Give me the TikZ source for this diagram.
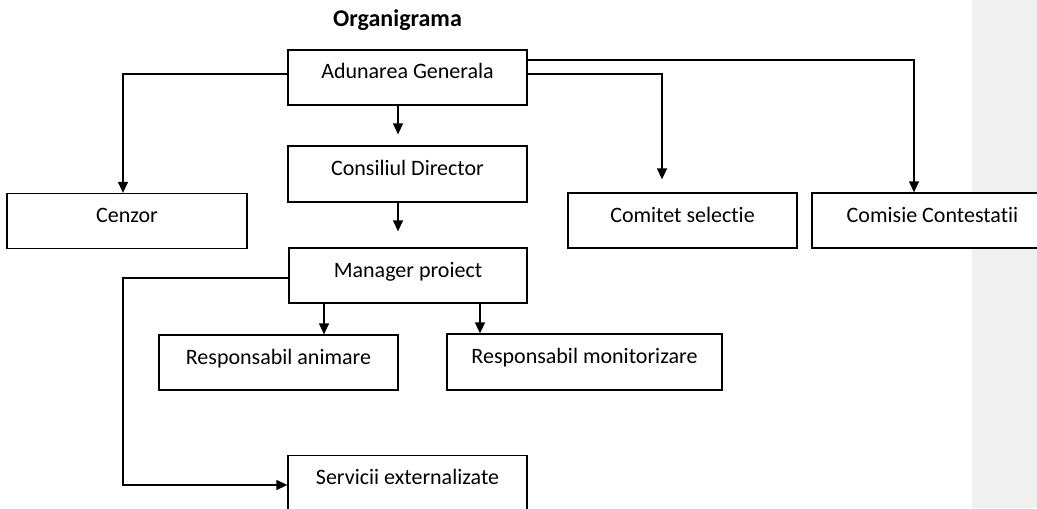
\documentclass[tikz,border=0pt]{standalone}
\usepackage{fontspec}
\setmainfont{Carlito}[Ligatures=NoCommon]
\usetikzlibrary{arrows.meta}

\tikzset{
  box/.style={draw, fill=white, line width=0.65pt, minimum height=27.5pt,
    text height=8.5pt, text depth=7pt, inner sep=0pt},
  arr/.style={-{Triangle[width=5pt,length=5.5pt]}, line width=0.65pt},
}

\begin{document}
\begin{tikzpicture}[x=0.5pt,y=-0.5pt, font=\fontsize{11}{13}\selectfont]
    \useasboundingbox (0,0) rectangle (1037,508);
    \clip (0,0) rectangle (1037,508);
    \fill[black!6] (972,0) rectangle (1037,508); % margin panel

    \node[font=\bfseries\fontsize{12}{14}\selectfont, anchor=base] (titlu) at (397.5,27) {Organigrama};

    \node[box, minimum width=119.5pt] (adunare) at (407.5,77.5) {Adunarea Generala};
    \node[box, minimum width=119.5pt, minimum height=28pt] (consiliu) at (407.5,174) {Consiliul Director};
    \node[box, minimum width=119pt] (manager) at (408,275.5) {Manager proiect};
    \node[box, minimum width=120pt] (cenzor) at (127,221) {Cenzor};
    \node[box, minimum width=114.5pt] (comitet) at (682.5,220.5) {Comitet selectie};
    \node[box, minimum width=120.5pt] (comisie) at (932.5,220.5) {Comisie Contestatii};
    \node[box, minimum width=119.5pt] (animare) at (278.5,362.5) {Responsabil animare};
    \node[box, minimum width=137.5pt, minimum height=28pt] (monitor) at (584.5,362) {Responsabil monitorizare};
    \node[box, minimum width=119.5pt] (servicii) at (407.5,483) {Servicii externalizate};

    \draw[arr] ([yshift=1.75pt]adunare.west) -| ([xshift=-2pt]cenzor.north);
    \draw[arr, shorten >=6.5pt] ([yshift=1.75pt]adunare.east) -| (comitet.north -| 662,0);
    \draw[arr] ([yshift=8.75pt]adunare.east) -| (comisie.north -| 914,0);
    \draw[arr, shorten >=5.5pt] (adunare.south -| 398,0) -- (consiliu.north -| 398,0);
    \draw[arr, shorten >=8pt] (consiliu.south -| 398,0) -- (manager.north -| 398,0);
    \draw[arr] (manager.south -| 324,0) -- (animare.north -| 324,0);
    \draw[arr] (manager.south -| 480,0) -- (monitor.north -| 480,0);
    \draw[arr] ([yshift=-1.25pt]manager.west) -| (123,485) -- (servicii.west |- 0,485);

\end{tikzpicture}
\end{document}
